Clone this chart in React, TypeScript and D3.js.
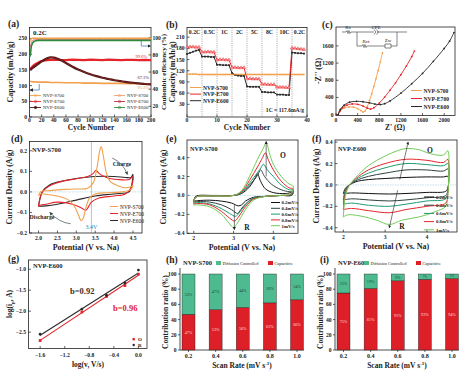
import React, { useEffect, useRef } from 'react';
import * as d3 from 'd3';

const FONT = "'Liberation Serif', 'Times New Roman', serif";
const ORANGE = '#f2a04c';
const RED = '#e4262c';
const DARK = '#2a2a2a';
const GREEN_CE = '#2f8a3c';
const MINT = '#4dbb8f';
const BARRED = '#dd1f27';
const RATE_COLORS = ['#111111', '#2f4040', '#1f9a72', '#e4262c', '#72cc5a'];
const RATE_LABELS = ['0.2mV/s', '0.4mV/s', '0.6mV/s', '0.8mV/s', '1mV/s'];
const SAMPLES = ['NVP-S700', 'NVP-E700', 'NVP-E600'];

// ---------- (a) cycling at 0.2C ----------
const aCycles = [1, 3, 5, 8, 10, 15, 20, 25, 30, 35, 40, 45, 50, 60, 70, 80, 90, 100, 110, 120, 130, 140, 150, 160, 170, 180, 190, 200];
const aE600 = [150, 153, 156, 160, 163, 170, 177, 183, 188, 190, 189, 186, 182, 172, 161, 151, 143, 136, 130, 125, 121, 117, 114, 111, 109, 107, 105, 104];
const aE700 = [152, 157, 161, 166, 169, 174, 178, 180, 181, 182, 182, 183, 182, 181, 183, 182, 181, 183, 182, 181, 183, 182, 181, 182, 182, 181, 182, 181];
const aS700 = [113, 113, 112, 112, 112, 111, 111, 111, 111, 110, 110, 110, 110, 109, 109, 109, 108, 108, 108, 107, 107, 107, 107, 106, 106, 106, 106, 106];
const aCE600 = [78, 90, 94, 96, 96.5, 97, 97, 97, 97, 97, 97, 97, 97, 97, 97, 97, 97, 97, 97, 97, 97, 97, 97, 97, 97, 97, 97, 97];
const aCE700 = [88, 95, 97, 98, 98, 98, 98, 98, 98, 98, 98, 98, 98, 98, 98, 98, 98, 98, 98, 98, 98, 98, 98, 98, 98, 98, 98, 98];
const aCES700 = [96, 99, 99.5, 99.5, 99.5, 99.5, 99.5, 99.5, 99.5, 99.5, 99.5, 99.5, 99.5, 99.5, 99.5, 99.5, 99.5, 99.5, 99.5, 99.5, 99.5, 99.5, 99.5, 99.5, 99.5, 99.5, 99.5, 99.5];
const aRetention = ['99.6%', '67.1%', '95.3%'];

// ---------- (b) rate capability ----------
const bRates = ['0.2C', '0.5C', '1C', '2C', '5C', '8C', '10C', '0.2C'];
const bE700 = [183, 184, 184, 183, 183, 170, 170, 171, 170, 170, 149, 150, 150, 149, 149, 129, 129, 128, 128, 128, 99, 99, 98, 98, 98, 84, 84, 83, 83, 83, 76, 76, 76, 75, 75, 181, 180, 179, 178, 177];
const bE600 = [165, 168, 171, 174, 176, 158, 158, 158, 157, 157, 136, 136, 135, 135, 135, 114, 109, 107, 106, 106, 78, 77, 77, 77, 77, 63, 63, 62, 62, 62, 56, 56, 56, 55, 55, 169, 168, 167, 167, 166];
const bS700 = [111, 111, 111, 111, 110, 110, 110, 110, 110, 110, 110, 110, 110, 110, 110, 110, 110, 110, 110, 110, 110, 110, 110, 110, 110, 110, 110, 110, 110, 110, 110, 110, 110, 110, 110, 110, 110, 110, 110, 110];

// ---------- (c) EIS ----------
const cS700: [number, number][] = [[40, 0], [60, 60], [100, 120], [160, 160], [240, 180], [320, 175], [400, 140], [460, 95], [500, 60], [540, 90], [580, 190], [620, 330], [660, 490], [700, 660], [740, 840], [780, 1030], [820, 1230], [860, 1440]];
const cE700: [number, number][] = [[40, 0], [70, 80], [120, 160], [200, 220], [300, 250], [400, 240], [500, 200], [580, 150], [640, 130], [700, 160], [800, 270], [900, 410], [1000, 570], [1100, 740], [1200, 930], [1300, 1130], [1400, 1350], [1450, 1480]];
const cE600: [number, number][] = [[40, 0], [80, 120], [150, 220], [250, 290], [380, 310], [500, 300], [620, 275], [720, 245], [820, 235], [900, 255], [1000, 320], [1200, 500], [1400, 720], [1600, 960], [1800, 1240], [2000, 1540], [2100, 1710], [2180, 1910]];

// ---------- (d) CV comparison ----------
const dS700: [number, number][] = [[2.0, -0.02], [2.05, 0.0], [2.3, 0.006], [2.7, 0.012], [3.0, 0.014], [3.3, 0.018], [3.45, 0.045], [3.55, 0.12], [3.62, 0.2], [3.66, 0.22], [3.72, 0.17], [3.8, 0.09], [3.9, 0.05], [4.1, 0.03], [4.3, 0.02], [4.45, 0.025], [4.5, 0.03], [4.45, 0.012], [4.2, 0.0], [3.8, -0.004], [3.5, -0.01], [3.35, -0.03], [3.25, -0.08], [3.18, -0.13], [3.13, -0.14], [3.05, -0.11], [2.95, -0.07], [2.8, -0.04], [2.5, -0.02], [2.2, -0.012], [2.05, -0.01], [2.0, -0.02]];
const dE700: [number, number][] = [[2.0, -0.07], [2.1, 0.0], [2.3, 0.03], [2.6, 0.05], [3.0, 0.064], [3.3, 0.075], [3.45, 0.09], [3.52, 0.105], [3.6, 0.09], [3.8, 0.07], [4.1, 0.06], [4.4, 0.06], [4.5, 0.075], [4.45, 0.02], [4.3, -0.01], [4.0, -0.02], [3.6, -0.03], [3.4, -0.05], [3.3, -0.08], [3.25, -0.09], [3.15, -0.08], [2.9, -0.06], [2.5, -0.05], [2.2, -0.06], [2.05, -0.065], [2.0, -0.07]];
const dE600: [number, number][] = [[2.0, -0.07], [2.1, 0.0], [2.3, 0.035], [2.7, 0.055], [3.0, 0.065], [3.5, 0.075], [4.0, 0.075], [4.3, 0.07], [4.45, 0.07], [4.5, 0.085], [4.45, 0.02], [4.4, 0.0], [4.0, -0.01], [3.5, -0.02], [3.0, -0.04], [2.5, -0.06], [2.2, -0.068], [2.0, -0.07]];

// ---------- (e) NVP-S700 CV at scan rates ----------
const eCurves: [number, number][][] = [
  [[2.0, -0.06], [2.05, -0.01], [2.5, 0.0], [3.0, 0.0], [3.2, 0.02], [3.4, 0.09], [3.55, 0.19], [3.6, 0.23], [3.68, 0.15], [3.8, 0.07], [4.0, 0.03], [4.3, 0.02], [4.5, 0.03], [4.45, 0.0], [4.2, 0.0], [3.8, -0.01], [3.5, -0.02], [3.3, -0.06], [3.2, -0.1], [3.12, -0.11], [2.95, -0.08], [2.7, -0.06], [2.4, -0.05], [2.1, -0.055], [2.0, -0.06]],
  [[2.0, -0.07], [2.05, -0.015], [2.5, -0.005], [3.0, 0.0], [3.2, 0.03], [3.4, 0.11], [3.6, 0.21], [3.68, 0.27], [3.78, 0.2], [3.95, 0.12], [4.2, 0.06], [4.4, 0.04], [4.5, 0.045], [4.45, 0.005], [4.2, 0.0], [3.8, -0.01], [3.5, -0.03], [3.3, -0.09], [3.18, -0.15], [3.1, -0.19], [2.95, -0.15], [2.7, -0.1], [2.4, -0.07], [2.1, -0.065], [2.0, -0.07]],
  [[2.0, -0.08], [2.05, -0.02], [2.5, -0.005], [3.0, 0.0], [3.2, 0.03], [3.4, 0.13], [3.6, 0.24], [3.7, 0.3], [3.75, 0.33], [3.85, 0.27], [4.0, 0.2], [4.2, 0.11], [4.4, 0.06], [4.5, 0.06], [4.45, 0.01], [4.2, 0.0], [3.8, -0.01], [3.5, -0.03], [3.3, -0.1], [3.15, -0.18], [3.05, -0.22], [2.9, -0.19], [2.7, -0.14], [2.4, -0.09], [2.1, -0.075], [2.0, -0.08]],
  [[2.0, -0.09], [2.05, -0.02], [2.5, -0.005], [3.0, 0.0], [3.2, 0.04], [3.4, 0.16], [3.6, 0.3], [3.73, 0.4], [3.8, 0.45], [3.88, 0.37], [4.0, 0.27], [4.2, 0.15], [4.4, 0.08], [4.5, 0.07], [4.45, 0.015], [4.2, 0.0], [3.8, -0.01], [3.5, -0.04], [3.3, -0.12], [3.12, -0.23], [3.03, -0.27], [2.9, -0.24], [2.7, -0.17], [2.4, -0.1], [2.1, -0.085], [2.0, -0.09]],
  [[2.0, -0.1], [2.05, -0.02], [2.5, -0.005], [3.0, 0.0], [3.2, 0.05], [3.4, 0.2], [3.6, 0.38], [3.75, 0.5], [3.82, 0.56], [3.9, 0.45], [4.0, 0.33], [4.2, 0.2], [4.4, 0.12], [4.5, 0.1], [4.45, 0.02], [4.2, 0.0], [3.8, -0.01], [3.5, -0.05], [3.3, -0.15], [3.1, -0.29], [3.0, -0.34], [2.9, -0.3], [2.7, -0.2], [2.4, -0.12], [2.1, -0.1], [2.0, -0.1]],
];

// ---------- (f) NVP-E600 CV at scan rates ----------
const fCurves: [number, number][][] = [
  [[2.0, -0.08], [2.05, -0.03], [2.15, 0.0], [2.3, 0.03], [2.6, 0.05], [3.0, 0.06], [3.5, 0.07], [4.0, 0.075], [4.4, 0.075], [4.5, 0.08], [4.52, 0.02], [4.5, -0.03], [4.45, -0.06], [4.0, -0.07], [3.5, -0.08], [3.1, -0.085], [2.6, -0.08], [2.2, -0.075], [2.0, -0.08]],
  [[2.0, -0.14], [2.05, -0.05], [2.15, 0.0], [2.3, 0.04], [2.6, 0.08], [3.0, 0.11], [3.5, 0.14], [4.0, 0.14], [4.4, 0.13], [4.5, 0.15], [4.52, 0.03], [4.5, -0.05], [4.45, -0.1], [4.0, -0.12], [3.5, -0.14], [3.1, -0.15], [2.6, -0.14], [2.2, -0.13], [2.0, -0.14]],
  [[2.0, -0.18], [2.05, -0.06], [2.15, 0.0], [2.3, 0.05], [2.6, 0.11], [3.0, 0.16], [3.5, 0.2], [4.0, 0.19], [4.4, 0.18], [4.5, 0.2], [4.52, 0.04], [4.5, -0.06], [4.45, -0.13], [4.0, -0.15], [3.5, -0.18], [3.1, -0.2], [2.6, -0.19], [2.2, -0.17], [2.0, -0.18]],
  [[2.0, -0.23], [2.05, -0.08], [2.15, 0.0], [2.3, 0.06], [2.6, 0.14], [3.0, 0.2], [3.5, 0.24], [4.0, 0.23], [4.4, 0.21], [4.5, 0.24], [4.52, 0.05], [4.5, -0.08], [4.45, -0.17], [4.0, -0.2], [3.5, -0.23], [3.1, -0.26], [2.6, -0.24], [2.2, -0.22], [2.0, -0.23]],
  [[2.0, -0.3], [2.05, -0.1], [2.15, 0.0], [2.3, 0.07], [2.6, 0.18], [3.0, 0.27], [3.3, 0.32], [3.5, 0.34], [3.8, 0.33], [4.1, 0.29], [4.4, 0.28], [4.5, 0.32], [4.52, 0.1], [4.5, -0.1], [4.45, -0.2], [4.2, -0.25], [3.8, -0.3], [3.4, -0.33], [3.1, -0.37], [2.8, -0.33], [2.4, -0.29], [2.1, -0.28], [2.0, -0.3]],
];

// ---------- (g) b-value ----------
const gLogV = [-1.6, -0.92, -0.52, -0.22, 0.0];
const gO = [-2.7, -2.02, -1.65, -1.39, -1.12];
const gR = [-2.55, -1.95, -1.62, -1.33, -1.02];

// ---------- (h)(i) contribution ----------
const scanRates = ['0.2', '0.4', '0.6', '0.8', '1.0'];
const hCap = [47, 53, 56, 62, 66];
const hDiff = [53, 47, 44, 38, 34];
const iCap = [75, 81, 91, 93, 94];
const iDiff = [25, 19, 9, 7, 6];

export default function App() {
  const ref = useRef<SVGSVGElement | null>(null);
  useEffect(() => {
    const svg = d3.select(ref.current);
    svg.selectAll('*').remove();
    svg.append('rect').attr('width', 469).attr('height', 377).attr('fill', '#fff');

    const txt = (x: number, y: number, s: string, o: any = {}) => {
      const t = svg.append('text').attr('x', x).attr('y', y).text(s)
        .attr('font-family', FONT).attr('font-weight', o.weight || 'bold')
        .attr('font-size', o.size || 6).attr('fill', o.fill || '#222')
        .attr('text-anchor', o.anchor || 'start');
      if (o.rotate) t.attr('transform', `rotate(${o.rotate},${x},${y})`);
      return t;
    };

    const frame = (x: any, y: any, xt: any[], yt: any[], fx: any, fy: any, o: any = {}) => {
      const [x0, x1] = x.range();
      const [y0, y1] = y.range(); // y0 bottom, y1 top
      const off = o.off ?? 6;
      svg.append('rect').attr('x', x0).attr('y', y1).attr('width', x1 - x0).attr('height', y0 - y1)
        .attr('fill', 'none').attr('stroke', '#222').attr('stroke-width', 0.8);
      xt.forEach((t) => {
        const px = x(t);
        svg.append('line').attr('x1', px).attr('x2', px).attr('y1', y0).attr('y2', y0 - 2.5).attr('stroke', '#222').attr('stroke-width', 0.7);
        txt(px, y0 + off, fx(t), { anchor: 'middle', size: 5.6 });
      });
      yt.forEach((t) => {
        const py = y(t);
        svg.append('line').attr('x1', x0).attr('x2', x0 + 2.5).attr('y1', py).attr('y2', py).attr('stroke', '#222').attr('stroke-width', 0.7);
        txt(x0 - 2.5, py + 2, fy(t), { anchor: 'end', size: 5.6 });
      });
    };

    const path = (pts: [number, number][], x: any, y: any, color: string, w = 1, curve: any = d3.curveLinear) => {
      const line = d3.line<[number, number]>().x((d) => x(d[0])).y((d) => y(d[1])).curve(curve);
      return svg.append('path').attr('d', line(pts) as string).attr('fill', 'none').attr('stroke', color).attr('stroke-width', w).attr('stroke-linejoin', 'round');
    };
    const zip = (xs: number[], ys: number[]) => xs.map((v, i) => [v, ys[i]] as [number, number]);

    const arrowDefs = svg.append('defs');
    const mk = (id: string, color: string) => {
      arrowDefs.append('marker').attr('id', id).attr('viewBox', '0 0 10 10').attr('refX', 8).attr('refY', 5)
        .attr('markerWidth', 5).attr('markerHeight', 5).attr('orient', 'auto-start-reverse')
        .append('path').attr('d', 'M0,0 L10,5 L0,10 z').attr('fill', color);
    };
    mk('arrK', '#222');
    mk('arrG', '#3a5050');

    // ========== (a) ==========
    {
      const x = d3.scaleLinear().domain([0, 200]).range([29.5, 151]);
      const y = d3.scaleLinear().domain([0, 285]).range([117, 27.5]);
      const yr = d3.scaleLinear().domain([7.5, 112]).range([117, 27.5]);
      frame(x, y, d3.range(0, 201, 20), [0, 50, 100, 150, 200, 250], (t: number) => `${t}`, (t: number) => `${t}`, { off: 5.2 });
      [20, 40, 60, 80, 100].forEach((t) => {
        svg.append('line').attr('x1', 151).attr('x2', 148.5).attr('y1', yr(t)).attr('y2', yr(t)).attr('stroke', '#222').attr('stroke-width', 0.7);
        txt(152.5, yr(t) + 2, `${t}`, { size: 5.6 });
      });
      path(zip(aCycles, aCES700), x, yr, ORANGE, 1.4);
      path(zip(aCycles, aCE700), x, yr, '#f08080', 1.0);
      path(zip(aCycles, aCE600), x, yr, GREEN_CE, 1.6);
      path(zip(aCycles, aS700), x, y, ORANGE, 1.6);
      path(zip(aCycles, aE700), x, y, RED, 2.2);
      path(zip(aCycles, aE600), x, y, '#4a1414', 2.2, d3.curveMonotoneX);
      path(zip(aCycles, aE600), x, y, '#b03030', 0.5, d3.curveMonotoneX);
      txt(33, 35, '0.2C', { size: 7 });
      txt(147, 58, aRetention[0], { size: 4.5, anchor: 'end', fill: RED, weight: 'normal' });
      txt(149, 79, aRetention[1], { size: 4.5, anchor: 'end', fill: '#4a1414', weight: 'normal' });
      txt(149, 89, aRetention[2], { size: 4.5, anchor: 'end', fill: ORANGE, weight: 'normal' });
      svg.append('path').attr('d', `M${x(16)},${y(105)} V${y(86)} H${x(1)}`).attr('fill', 'none').attr('stroke', '#2a6fb0').attr('stroke-width', 0.7).attr('marker-end', 'url(#arrK)');
      svg.append('path').attr('d', `M${x(184)},${y(243)} V${y(226)} H${x(199)}`).attr('fill', 'none').attr('stroke', '#2a6fb0').attr('stroke-width', 0.7).attr('marker-end', 'url(#arrK)');
      const lc = [ORANGE, RED, '#4a1414'];
      const rc = ['#f0a070', '#c03040', GREEN_CE];
      SAMPLES.forEach((s, i) => {
        const ly = 95.5 + i * 6;
        svg.append('line').attr('x1', 30).attr('x2', 41).attr('y1', ly).attr('y2', ly).attr('stroke', lc[i]).attr('stroke-width', 0.9);
        svg.append('circle').attr('cx', 35.5).attr('cy', ly).attr('r', 1.2).attr('fill', i === 2 ? lc[i] : 'none').attr('stroke', lc[i]).attr('stroke-width', 0.6);
        txt(43, ly + 1.7, s, { size: 4.8, weight: 'normal' });
        svg.append('line').attr('x1', 114).attr('x2', 125).attr('y1', ly).attr('y2', ly).attr('stroke', rc[i]).attr('stroke-width', 0.9);
        svg.append('circle').attr('cx', 119.5).attr('cy', ly).attr('r', 1.2).attr('fill', 'none').attr('stroke', rc[i]).attr('stroke-width', 0.6);
        txt(127, ly + 1.7, s, { size: 4.8, weight: 'normal' });
      });
      txt(91, 129.5, 'Cycle Number', { anchor: 'middle', size: 7.5 });
      txt(13, 72, 'Capacity (mAh/g)', { anchor: 'middle', size: 8, rotate: -90 });
      txt(165.5, 72, 'Coulombic efficiency (%)', { anchor: 'middle', size: 7, rotate: -90 });
      txt(8, 27, '(a)', { size: 9.5 });
    }

    // ========== (b) ==========
    {
      const x = d3.scaleLinear().domain([0, 40]).range([187, 307]);
      const y = d3.scaleLinear().domain([-4, 236]).range([117, 27.5]);
      frame(x, y, [0, 10, 20, 30, 40], [30, 60, 90, 120, 150, 180, 210], (t: number) => `${t}`, (t: number) => `${t}`, { off: 5.2 });
      [5, 10, 15, 20, 25, 30, 35].forEach((c) => {
        svg.append('line').attr('x1', x(c)).attr('x2', x(c)).attr('y1', 27.5).attr('y2', 117).attr('stroke', '#666').attr('stroke-width', 0.6).attr('stroke-dasharray', '1,1.2');
      });
      bRates.forEach((r, i) => txt(x(i * 5 + 2.5), 34, r, { anchor: 'middle', size: 5.8 }));
      const cyc = d3.range(0, 40);
      path(zip(cyc, bS700), x, y, ORANGE, 1.3);
      path(zip(cyc, bE600), x, y, DARK, 1.0);
      path(zip(cyc, bE700), x, y, RED, 1.0);
      cyc.forEach((c, i) => {
        svg.append('rect').attr('x', x(c) - 0.9).attr('y', y(bE600[i]) - 0.9).attr('width', 1.8).attr('height', 1.8).attr('fill', DARK);
        svg.append('path').attr('d', d3.symbol(d3.symbolTriangle, 5)() as string).attr('transform', `translate(${x(c)},${y(bE700[i])})`).attr('fill', '#ff9a9a').attr('stroke', RED).attr('stroke-width', 0.4);
        svg.append('circle').attr('cx', x(c)).attr('cy', y(bS700[i])).attr('r', 0.8).attr('fill', ORANGE);
      });
      const bl = [ORANGE, RED, DARK];
      SAMPLES.forEach((s, i) => {
        const ly = 87.5 + i * 6.6;
        svg.append('line').attr('x1', 190).attr('x2', 201).attr('y1', ly).attr('y2', ly).attr('stroke', bl[i]).attr('stroke-width', 1);
        txt(203, ly + 2, s, { size: 5.6 });
      });
      txt(304, 112, '1C = 117.6mA/g', { anchor: 'end', size: 5.6 });
      txt(247, 129.5, 'Cycle Number', { anchor: 'middle', size: 7.5 });
      txt(175, 72, 'Capacity (mAh/g)', { anchor: 'middle', size: 8, rotate: -90 });
      txt(166, 28, '(b)', { size: 9.5 });
    }

    // ========== (c) ==========
    {
      const x = d3.scaleLinear().domain([0, 2200]).range([336, 455]);
      const y = d3.scaleLinear().domain([-20, 2040]).range([115.5, 27]);
      frame(x, y, [0, 400, 800, 1200, 1600, 2000], [0, 400, 800, 1200, 1600], (t: number) => `${t}`, (t: number) => `${t}`, { off: 6 });
      const cs = [cS700, cE700, cE600];
      const cc = [ORANGE, RED, DARK];
      cs.forEach((pts, i) => {
        path(pts, x, y, cc[i], 0.9, d3.curveCatmullRom);
        pts.forEach((p) => svg.append('circle').attr('cx', x(p[0])).attr('cy', y(p[1])).attr('r', 0.9).attr('fill', cc[i]));
      });
      const st = (d: string) => svg.append('path').attr('d', d).attr('fill', 'none').attr('stroke', '#333').attr('stroke-width', 0.6);
      st('M342,32 H346 l1,-1.5 l1,3 l1,-3 l1,3 l1,-1.5 H357 M357,32 H374 M377,32 H397 M357,32 V46 H362 l1,-1.5 l1,3 l1,-3 l1,3 l1,-1.5 H385 M385,44 h6 v4 h-6 z M391,46 H397 V32 H407');
      st('M374,29.5 l2,2.5 l-2,2.5 M376.5,29.5 l2,2.5 l-2,2.5');
      txt(348, 29, 'Rs', { size: 5, anchor: 'middle', weight: 'normal' });
      txt(376, 29, 'CPE', { size: 5, anchor: 'middle', weight: 'normal' });
      txt(366, 42.5, 'Rct', { size: 5, anchor: 'middle', weight: 'normal' });
      txt(388, 42, 'Zw', { size: 5, anchor: 'middle', weight: 'normal' });
      SAMPLES.forEach((s, i) => {
        const ly = 90.5 + i * 8;
        svg.append('line').attr('x1', 411).attr('x2', 422).attr('y1', ly).attr('y2', ly).attr('stroke', cc[i]).attr('stroke-width', 1);
        txt(423.5, ly + 2, s, { size: 5.6 });
      });
      txt(395, 130, "Z' (Ω)", { anchor: 'middle', size: 7.5 });
      txt(321, 71, "-Z'' (Ω)", { anchor: 'middle', size: 8, rotate: -90 });
      txt(322, 28, '(c)', { size: 9.5 });
    }

    // ========== (d) ==========
    {
      const x = d3.scaleLinear().domain([1.76, 4.74]).range([29.5, 142]);
      const y = d3.scaleLinear().domain([-0.2, 0.245]).range([233, 141.5]);
      frame(x, y, [2.0, 2.5, 3.0, 3.5, 4.0, 4.5], [-0.2, -0.1, 0.0, 0.1, 0.2], d3.format('.1f'), d3.format('.1f'), { off: 7 });
      svg.append('line').attr('x1', 29.5).attr('x2', 142).attr('y1', y(0)).attr('y2', y(0)).attr('stroke', '#9cc8d8').attr('stroke-width', 0.6).attr('stroke-dasharray', '1.5,1');
      svg.append('line').attr('x1', x(3.4)).attr('x2', x(3.4)).attr('y1', 141.5).attr('y2', 233).attr('stroke', '#2a7a8a').attr('stroke-width', 0.8).attr('stroke-dasharray', '1,1');
      path(dE600, x, y, DARK, 1.1, d3.curveCatmullRom);
      path(dE700, x, y, RED, 1.1, d3.curveCatmullRom);
      path(dS700, x, y, ORANGE, 1.1, d3.curveCatmullRom);
      txt(32, 152, 'NVP-S700', { size: 6.5 });
      txt(122, 166, 'Charge', { size: 5.8, anchor: 'middle' });
      svg.append('path').attr('d', `M${x(3.95)},${y(0.165)} Q${x(4.25)},${y(0.14)} ${x(4.35)},${y(0.085)}`).attr('fill', 'none').attr('stroke', '#3a5050').attr('stroke-width', 0.7).attr('marker-end', 'url(#arrG)');
      txt(42, 219, 'Discharge', { size: 5.8, anchor: 'middle' });
      svg.append('path').attr('d', `M${x(2.85)},${y(-0.155)} Q${x(2.55)},${y(-0.15)} ${x(2.3)},${y(-0.1)}`).attr('fill', 'none').attr('stroke', '#3a5050').attr('stroke-width', 0.7).attr('marker-end', 'url(#arrG)');
      txt(x(3.4), 229, '3.4V', { size: 6, anchor: 'middle', fill: '#2a8a9a', weight: 'normal' });
      const dc = [ORANGE, RED, DARK];
      SAMPLES.forEach((s, i) => {
        const ly = 206.5 + i * 7;
        svg.append('line').attr('x1', 110).attr('x2', 118).attr('y1', ly).attr('y2', ly).attr('stroke', dc[i]).attr('stroke-width', 1);
        txt(120, ly + 2, s, { size: 5.4, weight: 'normal' });
      });
      txt(86, 249.5, 'Potential (V vs. Na)', { anchor: 'middle', size: 8 });
      txt(12, 187, 'Current Density (A/g)', { anchor: 'middle', size: 8, rotate: -90 });
      txt(11, 142, '(d)', { size: 9.5 });
    }

    // ========== (e) ==========
    {
      const x = d3.scaleLinear().domain([1.83, 4.62]).range([187, 298]);
      const y = d3.scaleLinear().domain([-0.4, 0.586]).range([233.3, 140]);
      frame(x, y, [2, 3, 4], [-0.4, -0.2, 0.0, 0.2, 0.4], (t: number) => `${t}`, d3.format('.1f'), { off: 7 });
      svg.append('line').attr('x1', 187).attr('x2', 298).attr('y1', y(0)).attr('y2', y(0)).attr('stroke', '#9cc8d8').attr('stroke-width', 0.6).attr('stroke-dasharray', '1.5,1');
      eCurves.forEach((c, i) => path(c, x, y, RATE_COLORS[i], 1.0, d3.curveCatmullRom));
      svg.append('line').attr('x1', x(3.82)).attr('x2', x(3.82)).attr('y1', y(0.2)).attr('y2', y(0.57)).attr('stroke', '#222').attr('stroke-width', 0.6).attr('marker-end', 'url(#arrK)');
      svg.append('line').attr('x1', x(3.02)).attr('x2', x(3.02)).attr('y1', y(-0.1)).attr('y2', y(-0.36)).attr('stroke', '#222').attr('stroke-width', 0.6).attr('marker-end', 'url(#arrK)');
      txt(283, 158, 'O', { size: 7.5, anchor: 'middle' });
      txt(247, 230, 'R', { size: 7.5, anchor: 'middle' });
      txt(190, 151, 'NVP-S700', { size: 6.2 });
      RATE_LABELS.forEach((s, i) => {
        const ly = 202.5 + i * 5.8;
        svg.append('line').attr('x1', 271).attr('x2', 280).attr('y1', ly).attr('y2', ly).attr('stroke', RATE_COLORS[i]).attr('stroke-width', 1);
        txt(281.5, ly + 1.8, s, { size: 4.8 });
      });
      txt(242, 249.5, 'Potential (V vs. Na)', { anchor: 'middle', size: 8 });
      txt(166, 187, 'Current Density (A/g)', { anchor: 'middle', size: 8, rotate: -90 });
      txt(166, 142, '(e)', { size: 9.5 });
    }

    // ========== (f) ==========
    {
      const x = d3.scaleLinear().domain([1.8, 4.72]).range([335, 457]);
      const y = d3.scaleLinear().domain([-0.44, 0.42]).range([232, 140]);
      frame(x, y, [2, 3, 4], [-0.4, -0.2, 0.0, 0.2, 0.4], (t: number) => `${t}`, d3.format('.1f'), { off: 7 });
      svg.append('line').attr('x1', 335).attr('x2', 457).attr('y1', y(0)).attr('y2', y(0)).attr('stroke', '#9cc8d8').attr('stroke-width', 0.6).attr('stroke-dasharray', '1.5,1');
      fCurves.forEach((c, i) => path(c, x, y, RATE_COLORS[i], 1.0, d3.curveCatmullRom));
      svg.append('line').attr('x1', x(3.35)).attr('x2', x(3.55)).attr('y1', y(0.05)).attr('y2', y(0.4)).attr('stroke', '#222').attr('stroke-width', 0.6).attr('marker-end', 'url(#arrK)');
      svg.append('line').attr('x1', x(3.3)).attr('x2', x(3.1)).attr('y1', y(-0.05)).attr('y2', y(-0.4)).attr('stroke', '#222').attr('stroke-width', 0.6).attr('marker-end', 'url(#arrK)');
      txt(430, 153, 'O', { size: 7.5, anchor: 'middle' });
      txt(402, 229, 'R', { size: 7.5, anchor: 'middle' });
      txt(338, 151, 'NVP-E600', { size: 6.2 });
      RATE_LABELS.forEach((s, i) => {
        const ly = 197 + i * 8.2;
        svg.append('line').attr('x1', 424).attr('x2', 434).attr('y1', ly).attr('y2', ly).attr('stroke', RATE_COLORS[i]).attr('stroke-width', 1);
        txt(436, ly + 1.8, s, { size: 4.8 });
      });
      txt(396, 248.5, 'Potential (V vs. Na)', { anchor: 'middle', size: 8 });
      txt(319, 186, 'Current Density (A/g)', { anchor: 'middle', size: 8, rotate: -90 });
      txt(312, 142, '(f)', { size: 9.5 });
    }

    // ========== (g) ==========
    {
      const x = d3.scaleLinear().domain([-1.79, 0.14]).range([28.5, 147]);
      const y = d3.scaleLinear().domain([-2.89, -0.78]).range([348.5, 260]);
      frame(x, y, [-1.6, -1.2, -0.8, -0.4, 0.0], [-2.5, -2.0, -1.5, -1.0], d3.format('.1f'), d3.format('.1f'), { off: 8.5 });
      const fit = (xs: number[], ys: number[]) => {
        const mx = d3.mean(xs) as number, my = d3.mean(ys) as number;
        const sxy = d3.sum(xs.map((v, i) => (v - mx) * (ys[i] - my)));
        const sxx = d3.sum(xs.map((v) => (v - mx) ** 2));
        const k = sxy / sxx;
        return (v: number) => my + k * (v - mx);
      };
      const fO = fit(gLogV, gO), fR = fit(gLogV, gR);
      path([[-1.6, fR(-1.6)], [0, fR(0)]], x, y, DARK, 1.1);
      path([[-1.6, fO(-1.6)], [0, fO(0)]], x, y, RED, 1.1);
      gLogV.forEach((v, i) => {
        svg.append('rect').attr('x', x(v) - 1.4).attr('y', y(gO[i]) - 1.4).attr('width', 2.8).attr('height', 2.8).attr('fill', RED);
        svg.append('circle').attr('cx', x(v)).attr('cy', y(gR[i])).attr('r', 1.4).attr('fill', DARK);
      });
      txt(33, 268, 'NVP-E600', { size: 6.5 });
      txt(70, 294, 'b=0.92', { size: 8.5, fill: '#333' });
      txt(113, 311, 'b=0.96', { size: 8.5, fill: RED });
      svg.append('rect').attr('x', 132.5).attr('y', 338).attr('width', 2.4).attr('height', 2.4).attr('fill', RED);
      txt(138, 341, 'O', { size: 5 });
      svg.append('circle').attr('cx', 133.7).attr('cy', 345).attr('r', 1.2).attr('fill', DARK);
      txt(138, 347, 'R', { size: 5 });
      txt(88, 367, 'log(v, V/s)', { anchor: 'middle', size: 7.5 });
      const yl = txt(12, 304, 'log(i', { anchor: 'middle', size: 7.5, rotate: -90 });
      yl.append('tspan').attr('dy', 1.8).attr('font-size', 5).text('p');
      yl.append('tspan').attr('dy', -1.8).text(', A)');
      txt(8, 262, '(g)', { size: 9.5 });
    }

    // ========== (h) & (i) ==========
    const bars = (x0: number, x1: number, cap: number[], diff: number[], label: string, letter: string, letterX: number, yLabelX: number, legX: number) => {
      const x = d3.scalePoint<string>().domain(scanRates).range([x0 + 8.5, x1 - 7]);
      const y = d3.scaleLinear().domain([0, 100]).range([350, 274]);
      svg.append('line').attr('x1', x0).attr('x2', x0).attr('y1', 350).attr('y2', 268).attr('stroke', '#222').attr('stroke-width', 0.8);
      svg.append('line').attr('x1', x0).attr('x2', x1).attr('y1', 350).attr('y2', 350).attr('stroke', '#222').attr('stroke-width', 0.8);
      [0, 20, 40, 60, 80, 100].forEach((t) => {
        svg.append('line').attr('x1', x0).attr('x2', x0 - 2).attr('y1', y(t)).attr('y2', y(t)).attr('stroke', '#222').attr('stroke-width', 0.7);
        txt(x0 - 3.5, y(t) + 2, `${t}`, { anchor: 'end', size: 5.6 });
      });
      const bw = 13;
      scanRates.forEach((r, i) => {
        const cx = x(r) as number;
        svg.append('line').attr('x1', cx).attr('x2', cx).attr('y1', 350).attr('y2', 352).attr('stroke', '#222').attr('stroke-width', 0.7);
        svg.append('rect').attr('x', cx - bw / 2).attr('y', y(cap[i])).attr('width', bw).attr('height', 350 - y(cap[i])).attr('fill', BARRED).attr('stroke', '#222').attr('stroke-width', 0.4);
        svg.append('rect').attr('x', cx - bw / 2).attr('y', y(100)).attr('width', bw).attr('height', y(cap[i]) - y(100)).attr('fill', MINT).attr('stroke', '#222').attr('stroke-width', 0.4);
        txt(cx, y(cap[i] / 2) + 1.5, `${cap[i]}%`, { anchor: 'middle', size: 4.2, fill: '#ffdede', weight: 'normal' });
        if (diff[i] >= 8) txt(cx, y(cap[i] + diff[i] / 2) + 1.5, `${diff[i]}%`, { anchor: 'middle', size: 4.2, fill: '#1d4a3a', weight: 'normal' });
        else txt(cx, y(cap[i] + diff[i] / 2) + 1.2, `${diff[i]}%`, { anchor: 'middle', size: 3.2, fill: '#1d4a3a', weight: 'normal' });
        txt(cx, 358, r, { anchor: 'middle', size: 6 });
      });
      txt(x0 + 3, 265, label, { size: 6.5 });
      svg.append('rect').attr('x', legX).attr('y', 261).attr('width', 5).attr('height', 4).attr('fill', MINT);
      txt(legX + 6.5, 264.5, 'Diffusion Controlled', { size: 4.3, weight: 'normal' });
      svg.append('rect').attr('x', legX + 52).attr('y', 261).attr('width', 5).attr('height', 4).attr('fill', BARRED);
      txt(legX + 58.5, 264.5, 'Capacitive', { size: 4.3, weight: 'normal' });
      const st = txt((x0 + x1) / 2, 368, 'Scan Rate (mV s', { anchor: 'middle', size: 7.5 });
      st.append('tspan').attr('dy', -3).attr('font-size', 5).text('-1');
      st.append('tspan').attr('dy', 3).text(')');
      txt(yLabelX, 312, 'Contribution ratio (%)', { anchor: 'middle', size: 7.5, rotate: -90 });
      txt(letterX, 263, letter, { size: 9.5 });
    };
    bars(180, 304, hCap, hDiff, 'NVP-S700', '(h)', 166, 168, 216);
    bars(335, 459, iCap, iDiff, 'NVP-E600', '(i)', 320, 323, 364);
  }, []);

  return (
    <svg ref={ref} width={469} height={377} style={{ position: 'absolute', left: 0, top: 0 }} />
  );
}
